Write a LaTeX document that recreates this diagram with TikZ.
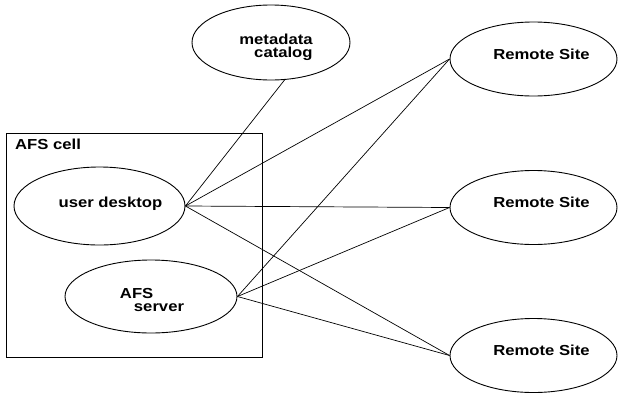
\documentclass[tikz,border=0pt]{standalone}
\usepackage{fontspec}
\setmainfont{Liberation Sans}[FakeStretch=1.15]
\usepackage{tikz}
\usetikzlibrary{shapes.geometric}

\begin{document}
\begin{tikzpicture}[x=1pt, y=-1pt,
        blob/.style={ellipse, draw, line width=0.9pt, inner sep=0pt},
        txt/.style={font=\fontsize{14.5}{13.5}\selectfont\bfseries},
        link/.style={line width=0.7pt}]
            \useasboundingbox (0, 0) rectangle (618, 394);

            % the cell
            \draw [line width=0.9pt] (6, 133) rectangle (262, 357);
            \node [txt, anchor=base west, inner sep=0pt] (celltitle) at (15, 149) {AFS cell};

            \node [blob, minimum width=171pt, minimum height=78pt,
                label={[txt, xshift=11pt, yshift=2pt]center:user desktop}] (desktop) at (99.5, 206) {};
            \node [blob, minimum width=172pt, minimum height=73pt,
                label={[txt, align=left, xshift=1pt, yshift=-3.3pt]center:{AFS\\\hspace{14pt}server}}] (server) at (151, 296.5) {};

            \node [blob, minimum width=158pt, minimum height=75pt,
                label={[txt, align=right, xshift=5pt, yshift=-4.8pt]center:{metadata\\catalog}}] (meta) at (271, 42.5) {};

            % remote sites
            \node [blob, minimum width=167pt, minimum height=74pt,
                label={[txt, xshift=8pt, yshift=5pt]center:Remote Site}] (siteA) at (533.5, 59) {};
            \node [blob, minimum width=167pt, minimum height=74pt,
                label={[txt, xshift=8pt, yshift=5pt]center:Remote Site}] (siteB) at (533.5, 207.5) {};
            \node [blob, minimum width=167pt, minimum height=74pt,
                label={[txt, xshift=8pt, yshift=5pt]center:Remote Site}] (siteC) at (533.5, 355.5) {};

            \draw [link] (desktop.east) -- (meta.-70);
            \foreach \s in {siteA, siteB, siteC} {
                \draw [link] (desktop.east) -- (\s.west);
                \draw [link] (server.east) -- (\s.west);
            }
        \end{tikzpicture}
\end{document}
